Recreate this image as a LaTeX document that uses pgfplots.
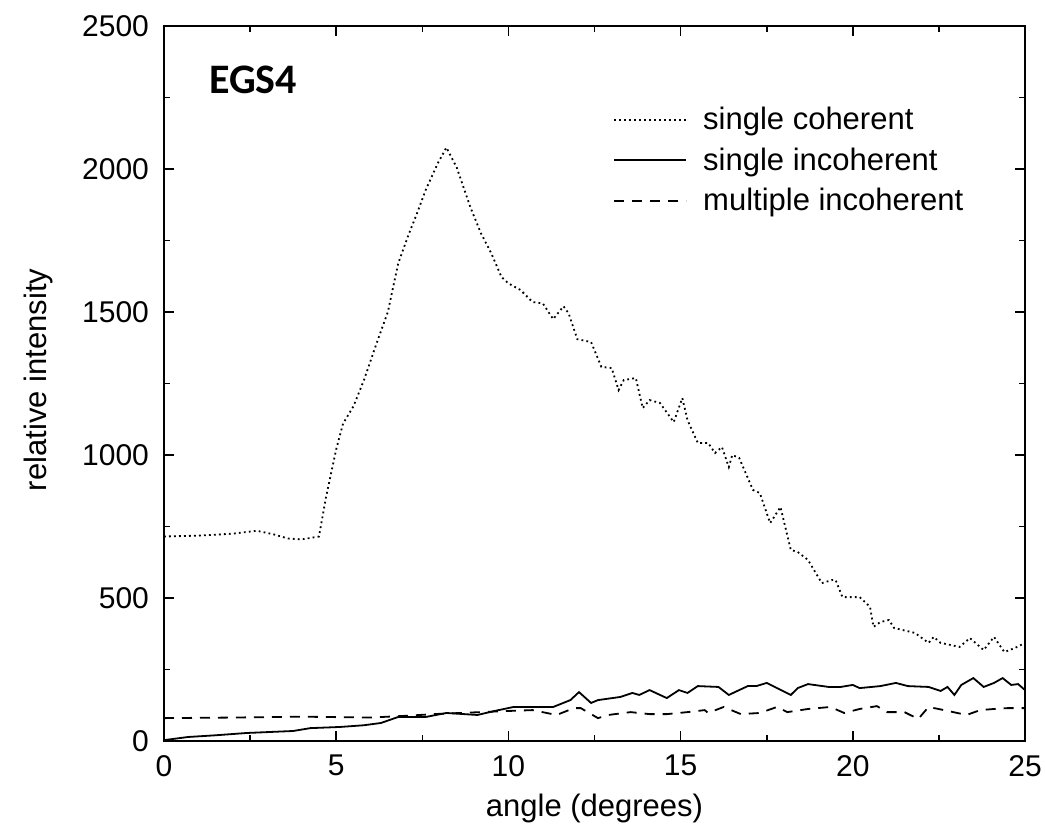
\documentclass[border=0pt]{standalone}
\usepackage{fontspec}
\setmainfont{Liberation Sans}
\newfontfamily\calib{Carlito}
\usepackage{pgfplots}
\pgfplotsset{compat=1.18}
\begin{document}
\begin{tikzpicture}
\begin{axis}[
  scale only axis,
  width=430.5pt, height=357.5pt,
  xmin=0, xmax=25, ymin=0, ymax=2500,
  xtick={0,5,...,25}, ytick={0,500,...,2500},
  minor tick num=1,
  tick align=inside,
  major tick length=5pt, minor tick length=3pt,
  axis line style={line width=1pt},
  every tick/.style={black, line width=0.8pt},
  /pgf/number format/assume math mode=true,
  /pgf/number format/set thousands separator={},
  tick label style={font=\fontsize{15}{18}\selectfont},
  yticklabel style={xshift=-4pt},
  xticklabel style={yshift=-3.5pt},
  label style={font=\fontsize{15.5}{18}\selectfont},
  xlabel={angle (degrees)},
  ylabel={relative intensity},
  xlabel style={at={(axis description cs:0.5,-0.094)}, anchor=center},
  ylabel style={at={(axis description cs:-0.1463,0.505)}, anchor=center},
  legend style={draw=none, fill=none, at={(rel axis cs:0.5215,0.893)}, anchor=north west,
    font=\fontsize{15.5}{18}\selectfont, row sep=3.6pt, inner sep=0pt},
  legend cell align=left,
  legend image code/.code={\draw[#1] (0pt,0pt) -- (36pt,0pt); \path (42pt,0pt);},
]
\coordinate (sw) at (rel axis cs:0,0);
\coordinate (ne) at (rel axis cs:1,1);
\addplot[black, line width=0.9pt, dash pattern=on 0.9pt off 1.6pt] coordinates {
(0,715) (1,718) (2,725) (2.7,735) (3.2,722) (3.6,708) (4.0,705) (4.5,715) (4.7,850) (5.0,1020) (5.2,1110) (5.5,1170) (5.8,1260) (6.2,1400) (6.5,1500) (6.8,1670) (7.1,1770) (7.35,1846) (7.6,1927) (7.95,2020) (8.2,2075) (8.5,2005) (8.9,1865) (9.2,1776) (9.5,1706) (9.8,1622) (10.0,1600) (10.35,1577) (10.7,1535) (11.0,1530) (11.3,1475) (11.6,1520) (11.75,1495) (12.0,1405) (12.4,1395) (12.7,1308) (13.0,1304) (13.2,1227) (13.35,1262) (13.7,1269) (13.9,1164) (14.1,1192) (14.4,1182) (14.8,1115) (15.05,1199) (15.2,1122) (15.5,1042) (15.8,1042) (16.0,1007) (16.2,1028) (16.4,958) (16.5,1000) (16.7,990) (17.1,878) (17.3,867) (17.6,762) (17.9,818) (18.2,668) (18.4,661) (18.7,633) (19.1,552) (19.4,563) (19.5,563) (19.7,503) (20.2,503) (20.5,469) (20.6,399) (20.8,416) (21.05,423) (21.2,395) (21.8,378) (22.2,343) (22.35,364) (22.55,343) (23.1,329) (23.4,360) (23.8,318) (24.1,364) (24.4,311) (24.7,325) (25,343)
};
\addlegendentry{single coherent}
\addplot[black, line width=0.9pt] coordinates {
(0,3) (0.7,14) (1.5,20) (2.4,28) (3.75,35) (4.25,45) (5.1,49) (5.8,55) (6.3,63) (6.8,84) (7.6,84) (8.2,98) (9.1,91) (9.6,105) (10.15,119) (10.55,119) (11.3,119) (11.8,143) (12.05,171) (12.4,133) (12.6,143) (13.25,154) (13.6,168) (13.8,161) (14.1,178) (14.6,150) (14.95,178) (15.2,168) (15.5,192) (16.1,189) (16.4,161) (16.95,192) (17.2,192) (17.5,203) (17.8,185) (18.2,161) (18.4,185) (18.7,199) (19.3,189) (19.65,189) (20.0,196) (20.2,185) (20.8,192) (21.25,203) (21.6,192) (22.2,189) (22.55,175) (22.75,189) (22.95,161) (23.15,196) (23.5,220) (23.8,189) (24.1,203) (24.35,220) (24.6,196) (24.8,199) (25,178)
};
\addlegendentry{single incoherent}
\addplot[black, line width=0.9pt, dash pattern=on 5pt off 4pt] coordinates {
(0,80) (2,82) (4,85) (6,82) (7,88) (8,95) (9,100) (10,105) (10.7,108) (11.4,91) (11.9,115) (12.1,115) (12.6,80) (12.9,91) (13.55,101) (14.1,94) (14.6,94) (15.2,101) (15.7,108) (15.8,98) (16.25,119) (16.75,94) (17.3,98) (17.8,119) (18.1,101) (18.7,112) (19.35,119) (19.75,98) (20.2,112) (20.7,122) (21.0,101) (21.5,101) (21.9,77) (22.2,119) (22.65,108) (23.3,91) (23.7,108) (24.1,112) (24.5,115) (25,115)
};
\addlegendentry{multiple incoherent}
\node[anchor=west, font=\calib\bfseries\fontsize{21}{24}\selectfont, inner sep=0pt] at (axis cs:1.3,2311) {EGS4};
\end{axis}
\pgfresetboundingbox
\path[use as bounding box] ([shift={(-82pt,-42pt)}]sw) rectangle ([shift={(10pt,13pt)}]ne);
\end{tikzpicture}
\end{document}
